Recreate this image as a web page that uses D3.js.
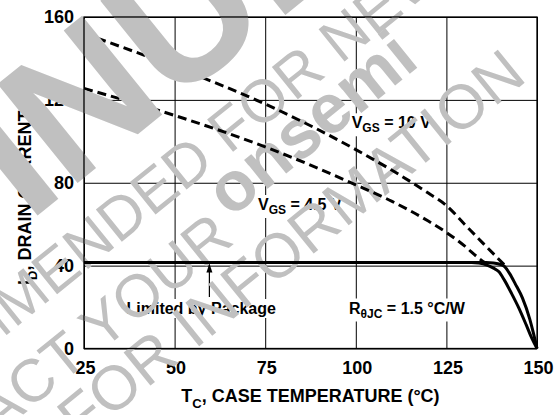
<!DOCTYPE html>
<html><head><meta charset="utf-8">
<script src="https://cdn.jsdelivr.net/npm/d3@7"></script>
<style>body{margin:0;background:#fff}svg{display:block}</style>
</head><body><svg id="c" width="560" height="415"></svg>
<script>
// ---- data ----
const tempDash10=[25,50,75,100,110,120,125,130,135,141.5];
const curDash10=[152,136,118,96,86,75,69,60,51,39.5];
const tempDash45=[25,50,75,100,110,120,125,130,134,136];
const curDash45=[125.5,112.5,97.3,79,71,61.5,56,49.5,43.5,41];
const tempSolid10=[25,136,138,139.5,141,142.5,144,146,148,149,150];
const curSolid10=[41.5,41.5,41.3,40.8,39.6,36,31.2,24.3,14.2,7.5,0];
const tempSolid45=[25,132,134,136,138,139.5,141,143,145,147,148.5,150];
const curSolid45=[41.5,41.5,41.2,40.4,38.8,37,33,26.5,19.5,11.5,5.2,0];
const xTicks=[25,50,75,100,125,150];
const yTicks=[0,40,80,120,160];
const arrowT=59.6, arrowTop=41.5, arrowBottom=24.8;

const FONT='"Liberation Sans", Arial, Helvetica, sans-serif';
const L=84,R=537,T=17,B=348.5;
const svg=d3.select('#c').attr('font-family',FONT);
const x=d3.scaleLinear().domain([25,150]).range([L,R]);
const y=d3.scaleLinear().domain([0,160]).range([B,T]);

// grid + tick labels
const gx=svg.append('g').attr('transform',`translate(0,${B})`)
  .call(d3.axisBottom(x).tickValues(xTicks).tickSize(-(B-T)).tickFormat(d3.format('d')));
gx.select('.domain').remove();
gx.attr('font-family',FONT).attr('font-size',18).attr('font-weight','bold');
gx.selectAll('line').attr('stroke','#000').attr('stroke-width',1);
gx.selectAll('text').attr('y',25).attr('dy',0).attr('dx',1).attr('fill','#000');

const gy=svg.append('g').attr('transform',`translate(${L},0)`)
  .call(d3.axisLeft(y).tickValues(yTicks).tickSize(-(R-L)).tickFormat(d3.format('d')));
gy.select('.domain').remove();
gy.attr('font-family',FONT).attr('font-size',18).attr('font-weight','bold');
gy.selectAll('line').attr('stroke','#000').attr('stroke-width',1);
gy.selectAll('text').attr('x',-10).attr('dy','0.33em').attr('fill','#000');

// axis titles
const xt=svg.append('text').attr('x',(L+R)/2).attr('y',402).attr('text-anchor','middle')
  .attr('font-size',18).attr('font-weight','bold');
xt.append('tspan').text('T');
xt.append('tspan').attr('font-size',13).attr('dy',6).text('C');
xt.append('tspan').attr('dy',-6).text(', CASE TEMPERATURE (°C)');

const yt=svg.append('text').attr('transform',`translate(31,${(T+B)/2}) rotate(-90)`)
  .attr('text-anchor','middle').attr('font-size',18).attr('font-weight','bold');
yt.append('tspan').text('I');
yt.append('tspan').attr('font-size',13).attr('dy',6).text('D');
yt.append('tspan').attr('dy',-6).text(', DRAIN CURRENT (A)');

// annotations with white backgrounds
function label(px,py,parts){
  const g=svg.append('g');
  const bg=g.append('rect').attr('fill','#fff');
  const t=g.append('text').attr('x',px).attr('y',py).attr('font-size',16).attr('font-weight','bold');
  let cur=0;
  parts.forEach(p=>{
    const off=(p.dy||0);
    t.append('tspan').attr('dy',off-cur).attr('font-size',p.size||16).text(p.t);
    cur=off;
  });
  const bb=t.node().getBBox();
  bg.attr('x',bb.x-3).attr('y',bb.y-1).attr('width',bb.width+6).attr('height',bb.height+2);
}
label(351.7,128.3,[{t:'V'},{t:'GS',size:12,dy:4},{t:' = 10 V'}]);
label(258,210,[{t:'V'},{t:'GS',size:12,dy:4},{t:' = 4.5 V'}]);
label(126.5,314,[{t:'Limited by Package'}]);
label(349,313.5,[{t:'R'},{t:'θJC',size:12,dy:4},{t:' = 1.5 °C/W'}]);

// arrow
svg.append('line').attr('x1',x(arrowT)).attr('x2',x(arrowT)).attr('y1',y(arrowTop)+2).attr('y2',y(arrowBottom))
  .attr('stroke','#000').attr('stroke-width',1.2);
svg.append('path').attr('d',`M${x(arrowT)},${y(arrowTop)+1} l-3,9 l6,0 z`).attr('fill','#000');

// watermark helper
const ANG=-39, ca=Math.cos(ANG*Math.PI/180), sa=Math.sin(ANG*Math.PI/180);
function wm(layer,str,idx,len,cx,cy,size,weight){
  const lx=cx*ca+cy*sa, ly=-cx*sa+cy*ca;
  const t=layer.append('text').attr('font-size',size).attr('font-weight',weight).text(str).attr('x',0).attr('y',0);
  const n=t.node();
  const pre=idx>0?n.getSubStringLength(0,idx):0;
  const w=n.getSubStringLength(idx,len);
  t.attr('x',lx-pre-w/2).attr('y',ly+0.36*size);
}
const wmG=svg.append('g').attr('transform',`rotate(${ANG})`).attr('fill','#c0c0c0');
wm(wmG,'NOT RECOMMENDED FOR NEW DESIGN',16,3,265,98,60,'normal');
wm(wmG,'CONTACT YOUR',8,4,155,280,60,'normal');
wm(wmG,'onsemi',0,6,310,122,70,'bold');
wm(wmG,'REPRESENTATIVE FOR INFORMATION',15,15,290,244,62,'normal');

// curves
const line=d3.line().x(d=>x(d[0])).y(d=>y(d[1])).curve(d3.curveMonotoneX);
const zip=(a,b)=>a.map((v,i)=>[v,b[i]]);
[[tempDash10,curDash10],[tempDash45,curDash45]].forEach(([a,b])=>{
  svg.append('path').attr('d',line(zip(a,b))).attr('fill','none').attr('stroke','#000')
    .attr('stroke-width',3).attr('stroke-dasharray','9,5');
});
[[tempSolid10,curSolid10],[tempSolid45,curSolid45]].forEach(([a,b])=>{
  svg.append('path').attr('d',line(zip(a,b))).attr('fill','none').attr('stroke','#000')
    .attr('stroke-width',3);
});
// large watermark word on top
const wmBig=svg.append('g').attr('transform',`rotate(${ANG})`).attr('fill','#c0c0c0');
wm(wmBig,'DISCONTINUED',8,1,78,97,185,'bold');
// frame
svg.append('rect').attr('x',L).attr('y',T).attr('width',R-L).attr('height',B-T)
  .attr('fill','none').attr('stroke','#000').attr('stroke-width',1.3);
</script></body></html>
